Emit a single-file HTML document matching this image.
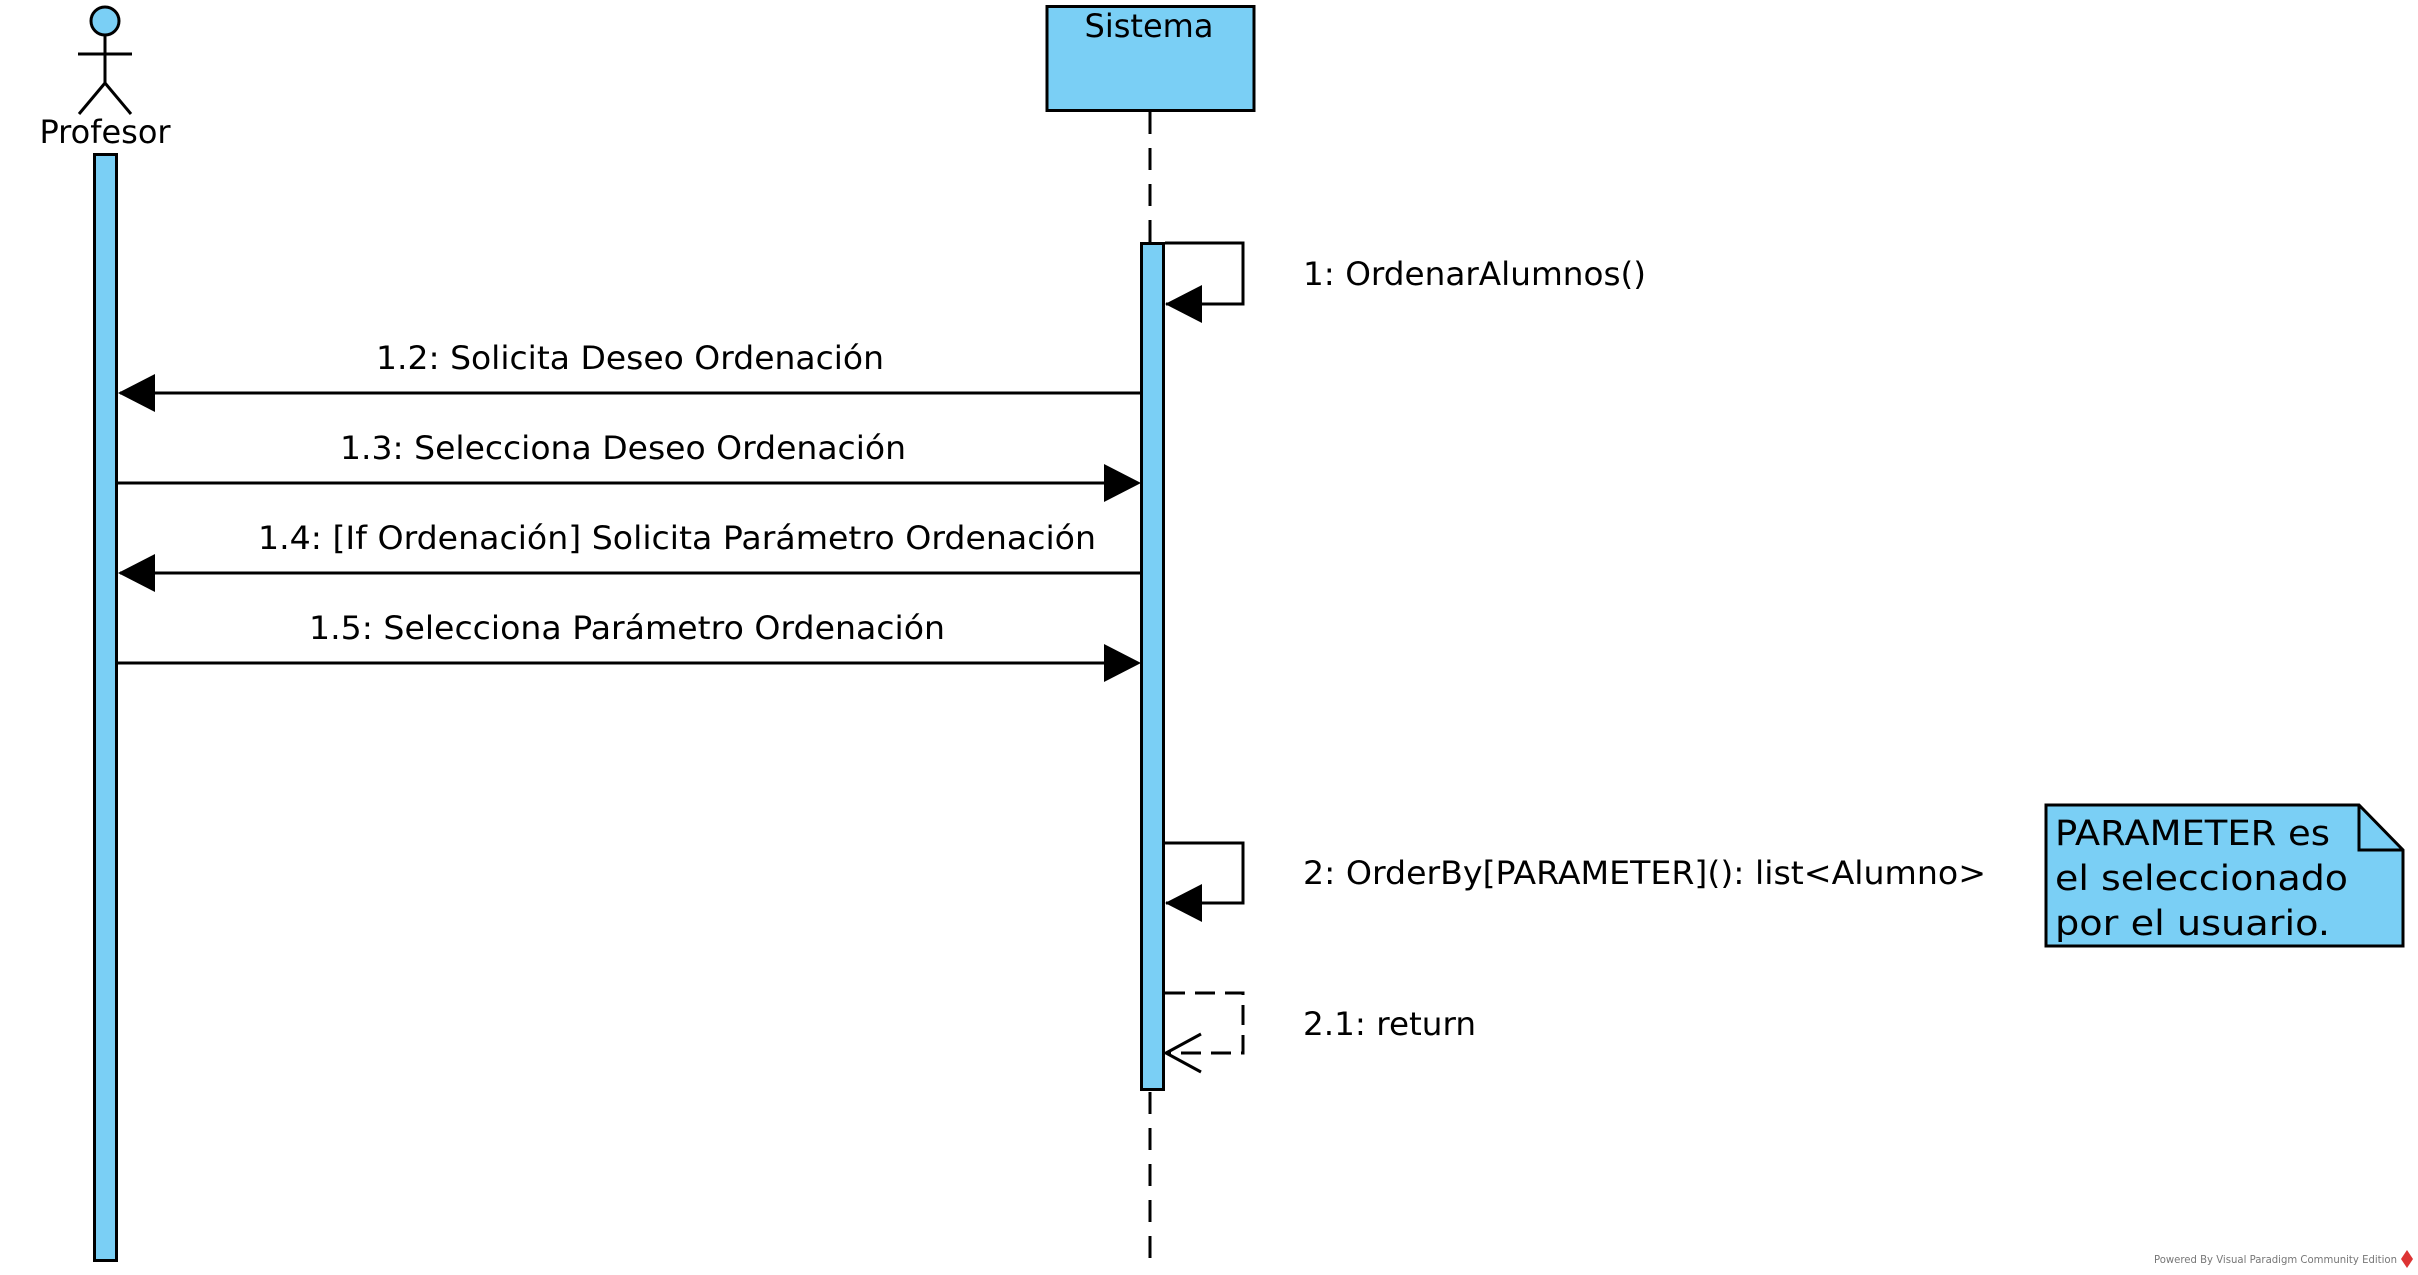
<!DOCTYPE html>
<html><head><meta charset="utf-8"><style>
html,body{margin:0;padding:0;background:#fff;}
svg{display:block;}
text{font-family:"DejaVu Sans","Liberation Sans",sans-serif;fill:#000;}
</style></head><body>
<svg width="2418" height="1275" viewBox="0 0 2418 1275" xmlns="http://www.w3.org/2000/svg">
<!-- Actor -->
<circle cx="105" cy="21" r="14" fill="#7acff5" stroke="#000" stroke-width="3"/>
<line x1="105" y1="35" x2="105" y2="84" stroke="#000" stroke-width="3"/>
<line x1="78" y1="54" x2="132" y2="54" stroke="#000" stroke-width="3"/>
<line x1="105" y1="83" x2="79" y2="114" stroke="#000" stroke-width="3"/>
<line x1="105" y1="83" x2="131" y2="114" stroke="#000" stroke-width="3"/>
<text x="105" y="143" font-size="32" text-anchor="middle">Profesor</text>
<rect x="94.5" y="154.5" width="22" height="1106" fill="#7acff5" stroke="#000" stroke-width="3"/>
<!-- Sistema -->
<rect x="1047" y="6.5" width="207" height="104" fill="#7acff5" stroke="#000" stroke-width="3"/>
<text x="1149" y="37" font-size="32" text-anchor="middle">Sistema</text>
<line x1="1150" y1="112" x2="1150" y2="243" stroke="#000" stroke-width="3" stroke-dasharray="22,14"/>
<line x1="1150" y1="1092" x2="1150" y2="1258" stroke="#000" stroke-width="3" stroke-dasharray="22,14"/>
<rect x="1141.5" y="243.5" width="22" height="846" fill="#7acff5" stroke="#000" stroke-width="3"/>
<!-- msg 1 self -->
<polyline points="1165,243 1243,243 1243,304 1166,304" fill="none" stroke="#000" stroke-width="3"/>
<path d="M1165,304 L1202,285 L1202,323 Z" fill="#000"/>
<text x="1303" y="285" font-size="32" textLength="343" lengthAdjust="spacingAndGlyphs">1: OrdenarAlumnos()</text>
<!-- 1.2 -->
<line x1="1141" y1="393" x2="120" y2="393" stroke="#000" stroke-width="3"/>
<path d="M118,393 L155,374 L155,412 Z" fill="#000"/>
<text x="376" y="369" font-size="32" textLength="508" lengthAdjust="spacingAndGlyphs">1.2: Solicita Deseo Ordenación</text>
<!-- 1.3 -->
<line x1="118" y1="483" x2="1105" y2="483" stroke="#000" stroke-width="3"/>
<path d="M1141,483 L1104,464 L1104,502 Z" fill="#000"/>
<text x="340" y="459" font-size="32" textLength="566" lengthAdjust="spacingAndGlyphs">1.3: Selecciona Deseo Ordenación</text>
<!-- 1.4 -->
<line x1="1141" y1="573" x2="120" y2="573" stroke="#000" stroke-width="3"/>
<path d="M118,573 L155,554 L155,592 Z" fill="#000"/>
<text x="258" y="549" font-size="32" textLength="838" lengthAdjust="spacingAndGlyphs">1.4: [If Ordenación] Solicita Parámetro Ordenación</text>
<!-- 1.5 -->
<line x1="118" y1="663" x2="1105" y2="663" stroke="#000" stroke-width="3"/>
<path d="M1141,663 L1104,644 L1104,682 Z" fill="#000"/>
<text x="309" y="639" font-size="32" textLength="636" lengthAdjust="spacingAndGlyphs">1.5: Selecciona Parámetro Ordenación</text>
<!-- msg 2 self -->
<polyline points="1165,843 1243,843 1243,903 1166,903" fill="none" stroke="#000" stroke-width="3"/>
<path d="M1165,903 L1202,884 L1202,922 Z" fill="#000"/>
<text x="1303" y="884" font-size="32" textLength="683" lengthAdjust="spacingAndGlyphs">2: OrderBy[PARAMETER](): list&lt;Alumno&gt;</text>
<!-- 2.1 return -->
<polyline points="1165,993 1243,993 1243,1053 1166,1053" fill="none" stroke="#000" stroke-width="3" stroke-dasharray="20,10"/>
<polyline points="1201,1034 1166,1053 1201,1072" fill="none" stroke="#000" stroke-width="3"/>
<text x="1303" y="1035" font-size="32" textLength="173" lengthAdjust="spacingAndGlyphs">2.1: return</text>
<!-- Note -->
<path d="M2046,805 L2359,805 L2403,850 L2403,946 L2046,946 Z" fill="#7acff5" stroke="#000" stroke-width="3"/>
<path d="M2359,805 L2359,850 L2403,850" fill="none" stroke="#000" stroke-width="3"/>
<text x="2055" y="845" font-size="35" textLength="275" lengthAdjust="spacingAndGlyphs">PARAMETER es</text>
<text x="2055" y="890" font-size="35" textLength="293" lengthAdjust="spacingAndGlyphs">el seleccionado</text>
<text x="2055" y="935" font-size="35" textLength="275" lengthAdjust="spacingAndGlyphs">por el usuario.</text>
<!-- watermark -->
<text x="2154" y="1263" font-size="11" style="fill:#777" textLength="243" lengthAdjust="spacingAndGlyphs">Powered By Visual Paradigm Community Edition</text>
<path d="M2407,1250 L2413,1259 L2407,1268 L2401,1259 Z" fill="#d33"/>
</svg>
</body></html>
